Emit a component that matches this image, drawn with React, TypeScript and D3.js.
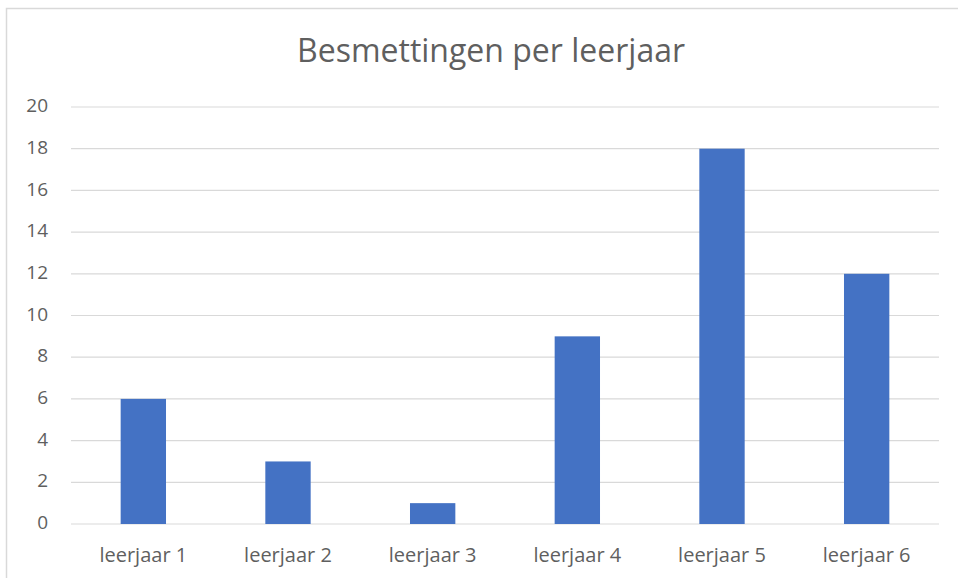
import React from "react";
import * as d3 from "d3";

const categories = ["leerjaar 1", "leerjaar 2", "leerjaar 3", "leerjaar 4", "leerjaar 5", "leerjaar 6"];
const values = [6, 3, 1, 9, 18, 12];
const yTicks = [0, 2, 4, 6, 8, 10, 12, 14, 16, 18, 20];
const title = "Besmettingen per leerjaar";

const W = 958;
const H = 578;
const FONT = "'Open Sans', 'Noto Sans', sans-serif";

export default function App() {
  const x = d3.scaleBand<string>().domain(categories).range([71, 939]).paddingInner(0).paddingOuter(0);
  const y = d3.scaleLinear().domain([0, 20]).range([524, 107]);
  const bw = x.bandwidth() / 3.19;

  return (
    <svg width={W} height={H} style={{ position: "absolute", left: 0, top: 0 }}>
      <rect x={0} y={0} width={W} height={H} fill="#fff" />
      <rect x={6.5} y={8.5} width={W + 20} height={H + 20} fill="none" stroke="#d9d9d9" strokeWidth={1.5} />
      <text x={491} y={62} textAnchor="middle" fontFamily={FONT} fontSize={32} fill="#5f5f5f">
        {title}
      </text>
      {yTicks.map((t) => (
        <g key={t}>
          <line x1={71} x2={939} y1={y(t)} y2={y(t)} stroke="#d9d9d9" strokeWidth={1.2} />
          <text x={48} y={y(t) - 1.5} dy="0.35em" textAnchor="end" fontFamily={FONT} fontSize={19} fill="#5f5f5f">
            {t}
          </text>
        </g>
      ))}
      {categories.map((c, i) => {
        const cx = (x(c) as number) + x.bandwidth() / 2;
        return (
          <g key={c}>
            <rect x={cx - bw / 2} y={y(values[i])} width={bw} height={y(0) - y(values[i])} fill="#4472c4" />
            <text x={cx} y={562} textAnchor="middle" fontFamily={FONT} fontSize={20} fill="#5f5f5f">
              {c}
            </text>
          </g>
        );
      })}
    </svg>
  );
}
